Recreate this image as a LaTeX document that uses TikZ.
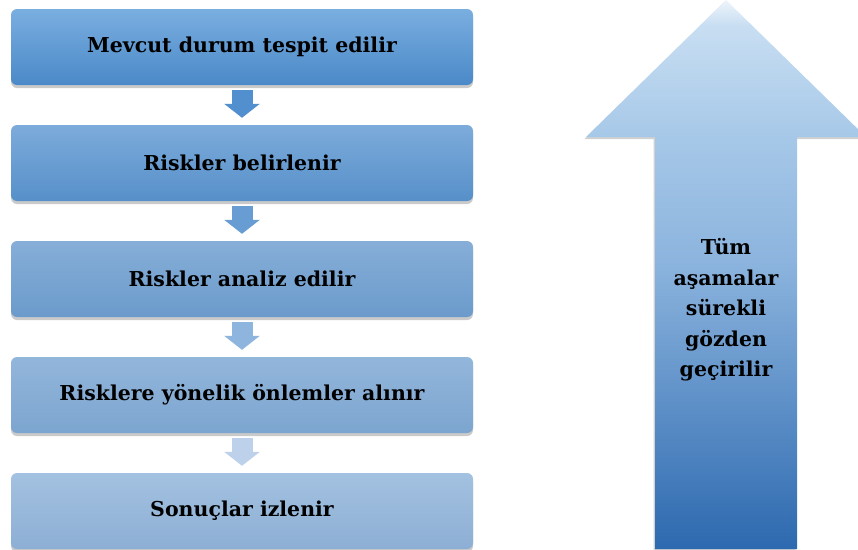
\documentclass[tikz,border=0pt]{standalone}
\usepackage{fontspec}
\setmainfont{DejaVu Serif}
\usetikzlibrary{arrows.meta, shadows, calc}

\definecolor{boxAtop}{HTML}{7AAEE0}
\definecolor{boxAbot}{HTML}{4A89C8}
\definecolor{boxBtop}{HTML}{7DABDB}
\definecolor{boxBbot}{HTML}{5690C9}
\definecolor{boxCtop}{HTML}{86AED8}
\definecolor{boxCbot}{HTML}{6B9BCB}
\definecolor{boxDtop}{HTML}{93B6DB}
\definecolor{boxDbot}{HTML}{7CA5CF}
\definecolor{boxEtop}{HTML}{A3C1E0}
\definecolor{boxEbot}{HTML}{8DAFD5}
\definecolor{arrA}{HTML}{528FCE}
\definecolor{arrB}{HTML}{689DD3}
\definecolor{arrC}{HTML}{8DB5DE}
\definecolor{arrD}{HTML}{BDD2EA}
\definecolor{upwhite}{HTML}{EEF4FB}
\definecolor{upA}{HTML}{C8DEF2}
\definecolor{upB}{HTML}{A6C8E8}
\definecolor{upC}{HTML}{8CB4DE}
\definecolor{upD}{HTML}{5F91C8}
\definecolor{upE}{HTML}{2D69AF}

% colour ramp of the big arrow (top of path = 75bp, bottom = 25bp)
\pgfdeclareverticalshading{upshade}{100bp}{color(0bp)=(upE); color(25bp)=(upE);
  color(38.6bp)=(upD); color(51.3bp)=(upC); color(62.5bp)=(upB);
  color(72.7bp)=(upA); color(75bp)=(upwhite); color(100bp)=(upwhite)}

\begin{document}
\begin{tikzpicture}[x=1pt, y=-1pt,
    stepbox/.style 2 args={rounded corners=6pt, minimum width=462pt, minimum height=76pt,
      top color=#1, bottom color=#2, font=\bfseries\fontsize{20.5}{25}\selectfont,
      drop shadow={shadow xshift=0pt, shadow yshift=-3pt, fill=black!60, opacity=0.35}},
    blockarrow/.style={#1, line width=21pt, shorten <=5pt, shorten >=7pt,
      -{Triangle[width=35pt, length=14pt]}}
    ]
\useasboundingbox (0,0) rectangle (858,549);

% big arrow on the right
\shade[shading=upshade, drop shadow={shadow xshift=-1.5pt, shadow yshift=-2pt, fill=black!60, opacity=0.3}]
  (726,0) -- (866,137) -- (797,137) -- (797,549) -- (655,549) -- (655,137) -- (586,137) -- cycle;
\node[align=center, font=\bfseries\fontsize{20.5}{30.5}\selectfont] (review) at (726,310)
  {Tüm\\aşamalar\\sürekli\\gözden\\geçirilir};

% steps
\node[stepbox={boxAtop}{boxAbot}] (s1) at (242,47) {Mevcut durum tespit edilir};
\node[stepbox={boxBtop}{boxBbot}] (s2) at (242,163) {Riskler belirlenir};
\node[stepbox={boxCtop}{boxCbot}] (s3) at (242,279) {Riskler analiz edilir};
\node[stepbox={boxDtop}{boxDbot}] (s4) at (242,395) {Risklere yönelik önlemler alınır};
\node[stepbox={boxEtop}{boxEbot}] (s5) at (242,511) {Sonuçlar izlenir};

\draw[blockarrow=arrA] (s1) -- (s2);
\draw[blockarrow=arrB] (s2) -- (s3);
\draw[blockarrow=arrC] (s3) -- (s4);
\draw[blockarrow=arrD] (s4) -- (s5);
\end{tikzpicture}
\end{document}
